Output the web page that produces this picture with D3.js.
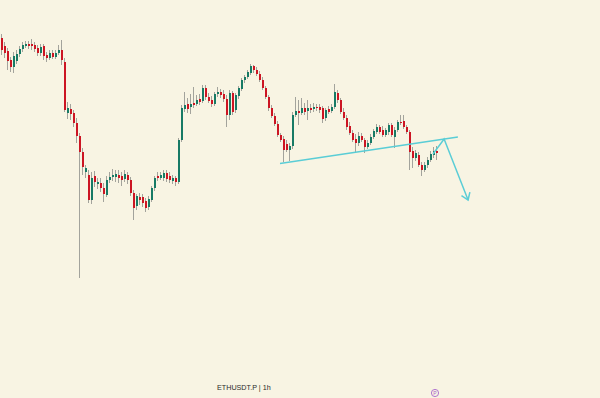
<!DOCTYPE html>
<html>
<head>
<meta charset="utf-8">
<script src="https://cdn.jsdelivr.net/npm/d3@7"></script>
<style>
  html, body { margin: 0; padding: 0; background: #f8f4e3; }
  #chart svg { display: block; }
</style>
</head>
<body>
<div id="chart"></div>
<script>
'use strict';

// ETHUSDT.P 1h candles
var opens = [2962,2954,2949,2940,2933,2939,2946,2951,2954,2956,
  2956,2955,2952,2947,2954,2945,2942,2947,2943,2947,
  2950,2938,2887,2891,2887,2877,2864,2848,2828,2825,
  2800,2824,2816,2817,2812,2805,2820,2823,2823,2825,
  2824,2821,2825,2820,2807,2794,2803,2803,2799,2793,
  2800,2812,2824,2822,2822,2827,2824,2819,2822,2818,
  2860,2891,2896,2893,2897,2896,2901,2899,2912,2903,
  2900,2896,2906,2908,2906,2901,2885,2907,2890,2904,
  2911,2920,2923,2927,2934,2930,2926,2920,2912,2903,
  2892,2884,2876,2865,2861,2856,2850,2854,2885,2889,
  2887,2892,2889,2892,2891,2893,2893,2892,2882,2891,
  2889,2893,2907,2900,2888,2882,2874,2867,2861,2857,
  2864,2860,2853,2857,2863,2868,2873,2870,2865,2868,
  2875,2863,2870,2878,2879,2873,2868,2849,2842,2845,
  2835,2830,2835,2840,2845,2849];
var highs = [2966,2958,2952,2943,2948,2950,2954,2958,2959,2959,
  2961,2958,2955,2956,2956,2948,2950,2950,2950,2955,
  2960,2942,2898,2896,2890,2882,2867,2852,2835,2830,
  2828,2829,2822,2822,2817,2824,2828,2831,2830,2830,
  2828,2830,2828,2823,2810,2806,2807,2806,2802,2804,
  2814,2824,2828,2828,2830,2830,2828,2825,2824,2862,
  2895,2908,2902,2906,2913,2905,2906,2915,2915,2907,
  2904,2908,2913,2911,2910,2905,2910,2909,2907,2914,
  2922,2925,2930,2936,2935,2933,2929,2923,2914,2905,
  2895,2887,2879,2867,2864,2860,2857,2888,2903,2900,
  2902,2897,2900,2896,2897,2896,2896,2894,2892,2894,
  2896,2916,2910,2902,2892,2885,2878,2870,2866,2868,
  2867,2862,2860,2866,2871,2876,2875,2874,2872,2877,
  2877,2873,2880,2885,2885,2875,2870,2853,2850,2848,
  2838,2838,2843,2849,2853,2854];
var lows = [2945,2942,2930,2928,2927,2936,2943,2948,2952,2951,
  2950,2948,2944,2944,2940,2938,2940,2941,2941,2945,
  2935,2888,2881,2880,2873,2857,2722,2825,2822,2797,
  2796,2813,2811,2808,2798,2803,2817,2819,2818,2817,
  2814,2818,2816,2804,2780,2790,2795,2793,2788,2790,
  2798,2809,2819,2820,2819,2818,2817,2816,2814,2816,
  2858,2888,2887,2886,2892,2894,2895,2897,2900,2897,
  2893,2894,2903,2902,2898,2873,2880,2885,2887,2901,
  2909,2917,2921,2925,2927,2924,2918,2910,2901,2889,
  2882,2874,2863,2858,2838,2848,2839,2851,2883,2875,
  2885,2885,2880,2887,2888,2889,2887,2877,2879,2886,
  2887,2891,2897,2886,2880,2870,2865,2858,2847,2854,
  2858,2847,2851,2855,2861,2866,2866,2863,2863,2865,
  2863,2852,2868,2875,2871,2866,2830,2832,2839,2833,
  2824,2828,2832,2838,2842,2840];
var closes = [2950,2947,2939,2933,2944,2946,2951,2955,2956,2954,
  2954,2951,2947,2953,2944,2942,2947,2943,2947,2950,
  2940,2890,2892,2886,2877,2864,2848,2833,2832,2800,
  2822,2818,2818,2812,2806,2820,2823,2825,2826,2822,
  2820,2826,2820,2807,2792,2804,2800,2797,2792,2801,
  2812,2822,2822,2825,2827,2821,2820,2822,2818,2860,
  2892,2895,2891,2896,2895,2900,2898,2912,2903,2899,
  2896,2906,2908,2905,2901,2885,2907,2888,2905,2912,
  2920,2923,2928,2934,2930,2926,2920,2912,2903,2892,
  2884,2876,2865,2860,2850,2850,2854,2885,2889,2887,
  2892,2888,2892,2890,2893,2892,2890,2881,2890,2888,
  2893,2908,2900,2888,2882,2873,2867,2860,2857,2864,
  2860,2853,2857,2863,2869,2873,2868,2865,2870,2875,
  2865,2870,2878,2877,2873,2868,2848,2842,2847,2835,
  2830,2835,2840,2846,2849,2847];

// drawn annotations: [bar index, price]
var trendLine = [[93, 2836.5], [152.3, 2863]];
var arrowPath = [[144, 2846], [147.7, 2861], [155.7, 2800]];

var symbolLabel = 'ETHUSDT.P | 1h';

function render() {
  var width = 600;
  var height = 398;
  var upColor = '#177a65';
  var downColor = '#cc1523';
  var wickColor = '#a3a39c';
  var drawColor = '#5acdd6';

  var data = opens.map(function(o, i) {
    return { i: i, o: o, h: highs[i], l: lows[i], c: closes[i] };
  });

  var svg = d3.select('#chart').append('svg')
    .attr('width', width)
    .attr('height', height);

  svg.append('rect')
    .attr('width', width)
    .attr('height', height)
    .attr('fill', '#f8f4e3');

  var x = d3.scaleLinear().domain([0, data.length - 1]).range([1, 436]);
  var y = d3.scaleLinear().domain([2602, 3000]).range([height, 0]);

  var candle = svg.append('g').selectAll('g')
    .data(data)
    .enter()
    .append('g');

  candle.append('line')
    .attr('x1', d => Math.round(x(d.i)) + 0.5)
    .attr('x2', d => Math.round(x(d.i)) + 0.5)
    .attr('y1', d => y(d.h))
    .attr('y2', d => y(d.l))
    .attr('stroke', wickColor)
    .attr('stroke-width', 1);

  candle.append('rect')
    .attr('x', d => Math.round(x(d.i)))
    .attr('width', 2)
    .attr('y', d => y(Math.max(d.o, d.c)))
    .attr('height', d => Math.max(1, Math.abs(y(d.o) - y(d.c))))
    .attr('fill', d => d.c >= d.o ? upColor : downColor);

  // trend line
  svg.append('line')
    .attr('x1', x(trendLine[0][0]))
    .attr('y1', y(trendLine[0][1]))
    .attr('x2', x(trendLine[1][0]))
    .attr('y2', y(trendLine[1][1]))
    .attr('stroke', drawColor)
    .attr('stroke-width', 1.5);

  // projection arrow
  var pts = arrowPath.map(p => [x(p[0]), y(p[1])]);
  svg.append('path')
    .attr('d', d3.line()(pts))
    .attr('fill', 'none')
    .attr('stroke', drawColor)
    .attr('stroke-width', 1.5);

  var tip = pts[pts.length - 1];
  var prev = pts[pts.length - 2];
  var ang = Math.atan2(prev[1] - tip[1], prev[0] - tip[0]);
  var wing = 8, spread = 0.6;
  var head = [
    [tip[0] + wing * Math.cos(ang + spread), tip[1] + wing * Math.sin(ang + spread)],
    tip,
    [tip[0] + wing * Math.cos(ang - spread), tip[1] + wing * Math.sin(ang - spread)]
  ];
  svg.append('path')
    .attr('d', d3.line()(head))
    .attr('fill', 'none')
    .attr('stroke', drawColor)
    .attr('stroke-width', 1.5);

  // symbol caption
  svg.append('text')
    .attr('x', 217)
    .attr('y', 390)
    .attr('font-family', 'Liberation Sans, Arial, sans-serif')
    .attr('font-size', 7.2)
    .attr('fill', '#2a2a2a')
    .text(symbolLabel);

  // small badge
  var badge = svg.append('g').attr('transform', 'translate(435,393)');
  badge.append('circle')
    .attr('r', 3.6)
    .attr('fill', 'none')
    .attr('stroke', '#a866cc')
    .attr('stroke-width', 0.9);
  badge.append('text')
    .attr('y', 1.8)
    .attr('text-anchor', 'middle')
    .attr('font-family', 'Liberation Sans, Arial, sans-serif')
    .attr('font-size', 5)
    .attr('fill', '#a866cc')
    .text('P');
}

render();
</script>
</body>
</html>
